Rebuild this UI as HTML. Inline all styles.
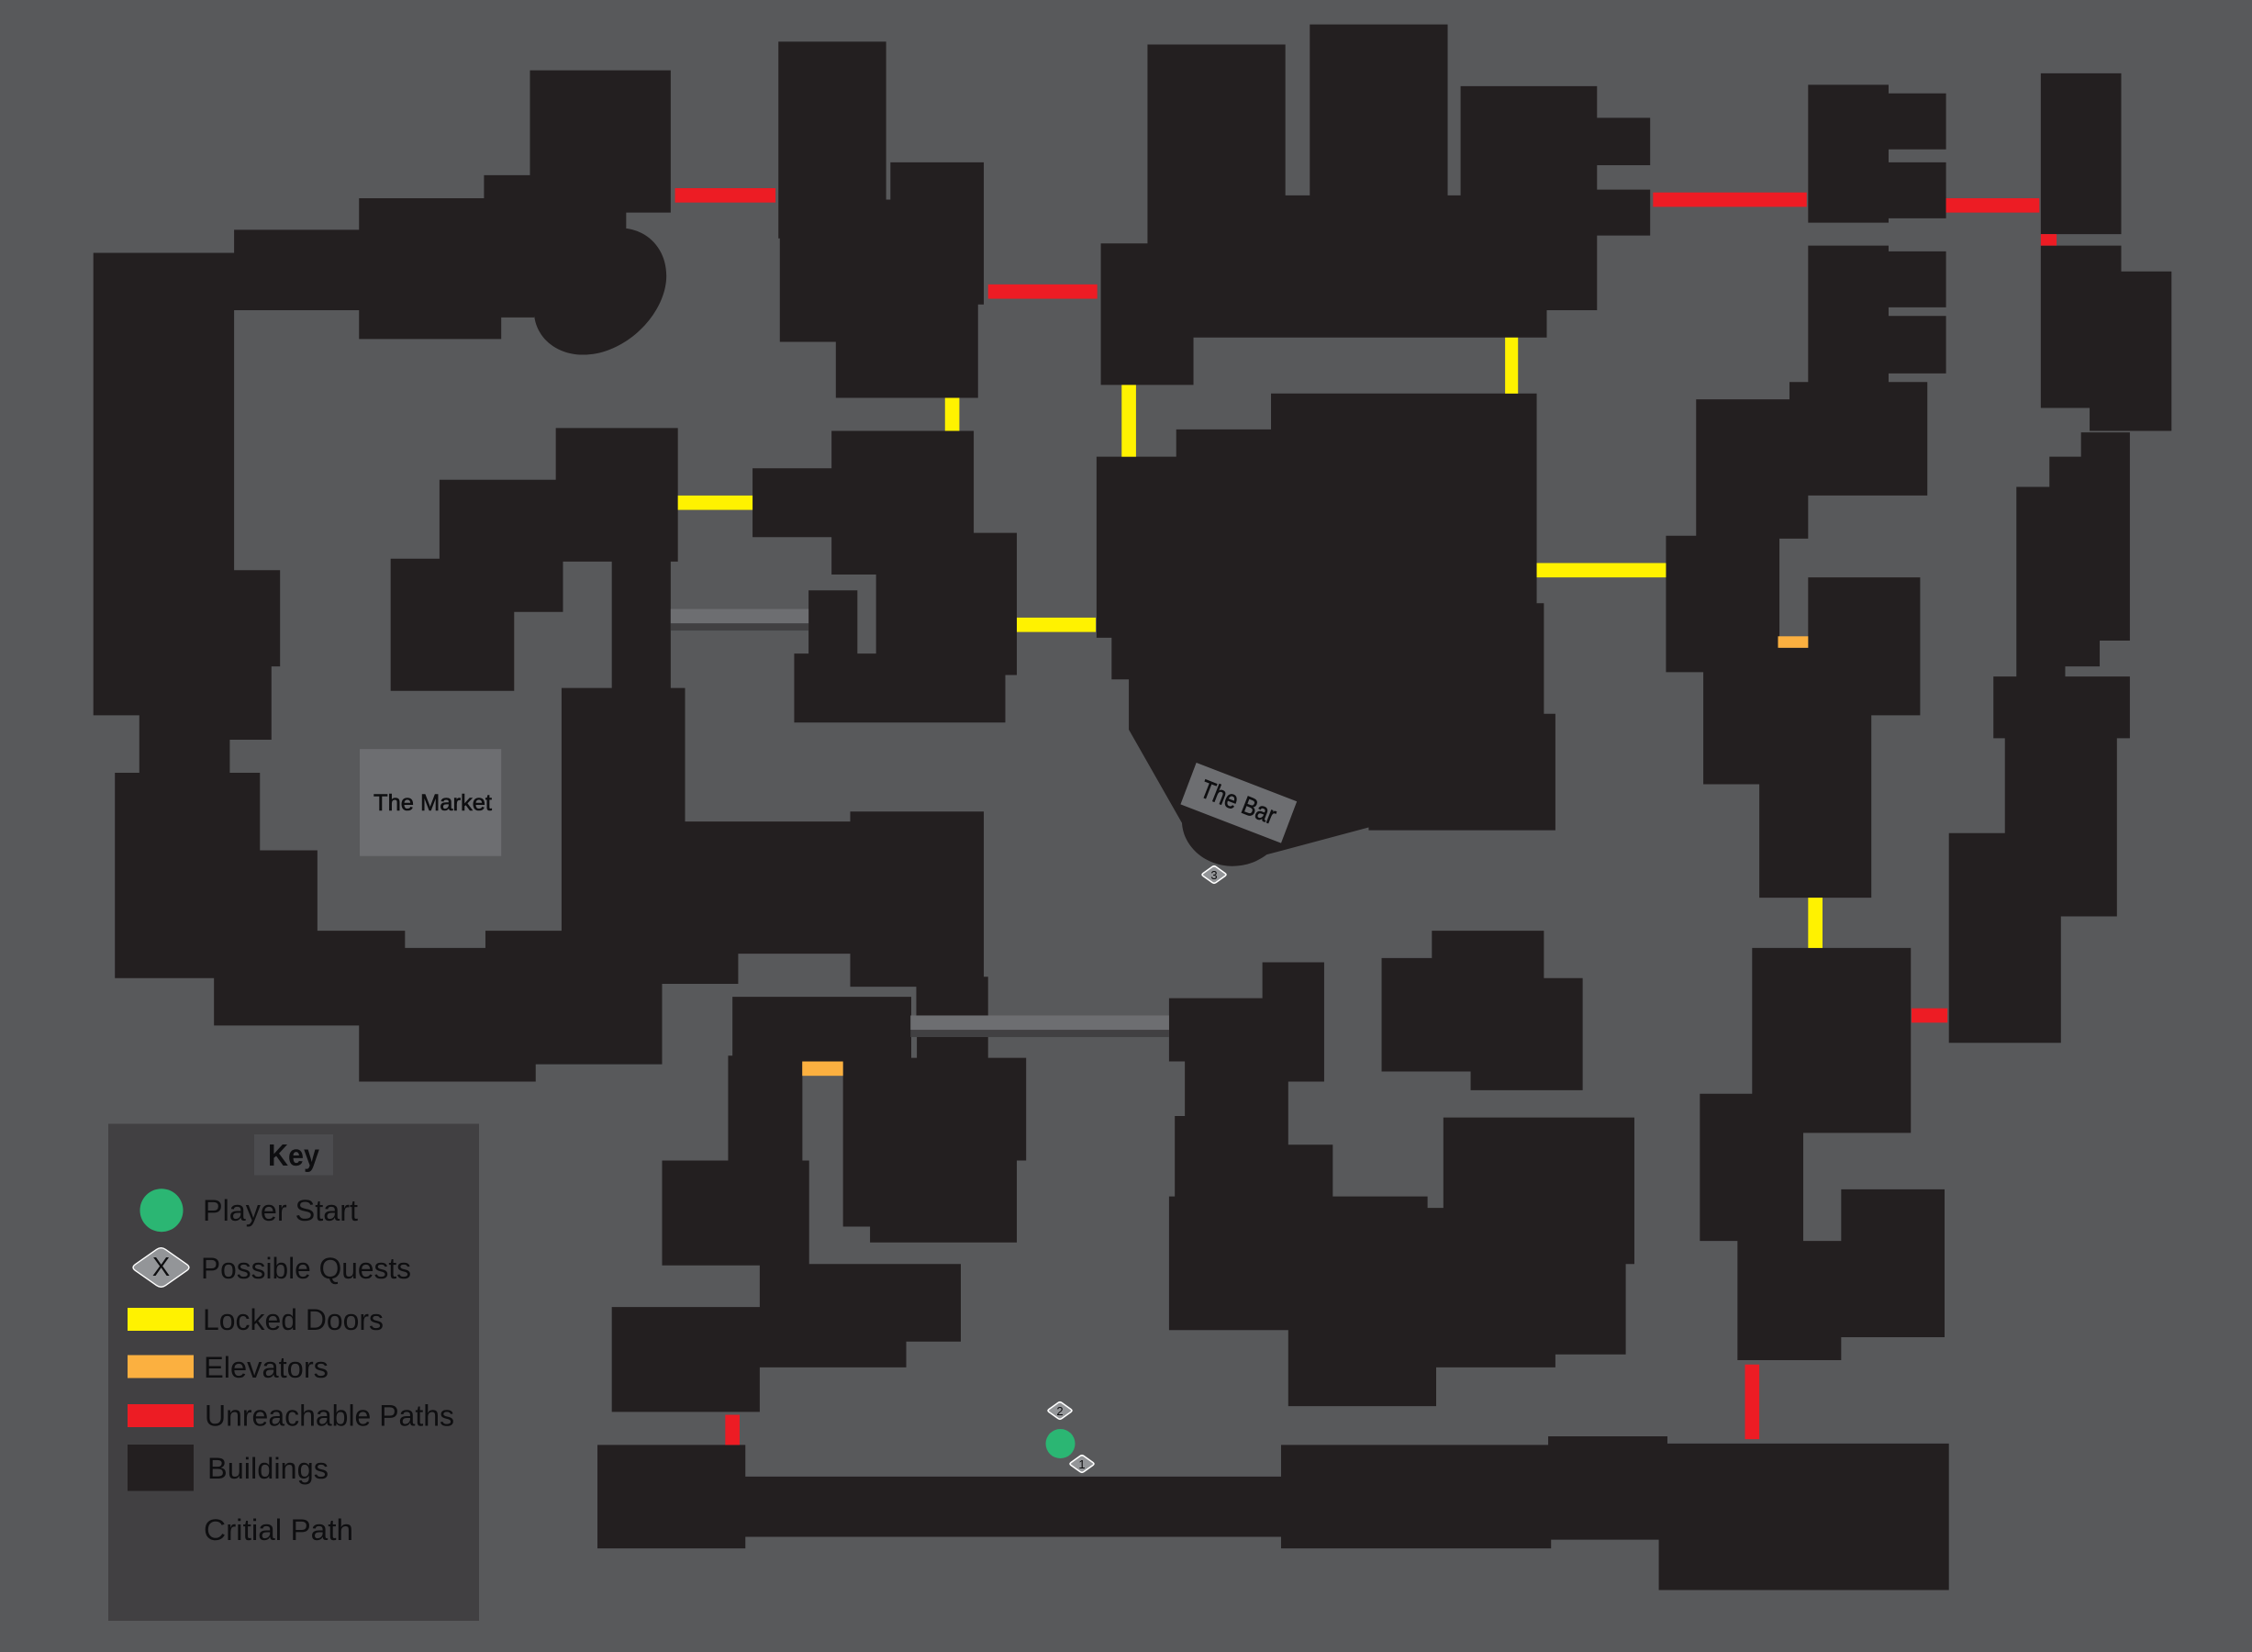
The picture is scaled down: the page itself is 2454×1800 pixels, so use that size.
<!DOCTYPE html>
<html lang="en">
<head>
<meta charset="utf-8">
<title>Map</title>
<style>
html,body{margin:0;padding:0;background:#58595b;}
svg{display:block;}
text{font-family:"Liberation Sans",sans-serif;fill:#0e0e10;}
</style>
</head>
<body>
<svg xmlns="http://www.w3.org/2000/svg" width="2454" height="1800" viewBox="0 0 2454 1800">
<defs>
<path id="d" d="M-11.9,-1.5L-2.1,-8.5Q0,-10 2.1,-8.5L11.9,-1.5Q14,0 11.9,1.5L2.1,8.5Q0,10 -2.1,8.5L-11.9,1.5Q-14,0 -11.9,-1.5Z"/>
</defs>
<rect width="2454" height="1800" fill="#58595b"/>
<g transform="scale(1.565)">
<!-- buildings -->
<path fill="#231f20" d="
M369 49H467V148H369Z
M337 122H436V170H337Z
M250 138H372V221H349V236H250Z
M163 160H260V216H163Z
M65 176H163V498H65Z
M160 397H195V464H160Z
M160 460H189V515H160Z
M97 495H160V540H97Z
M80 538H181V681H80Z
M178 592H221V681H178Z
M149 648H282V714H149Z
M250 660H373V753H250Z
M338 648H461V741H338Z
M391 479H477V685H391Z
M461 572H592V664H514V685H461Z
M592 565H685V687H592Z
M638 680H688V710H638Z
M436 159C452 161 464 174 464 192C464 218 436 247 406 247C388 247 374 236 372 220L372 159Z
M542 29H617V166H542Z
M543 139H685V212H681V277H582V238H543Z
M620 113H685V212H620Z
M387 298H472V391H387Z
M306 334H392V426H358V481H272V389H306Z
M426 388H467V479H426Z
M524 326H580V374H524Z
M579 300H678V400H579Z
M610 371H708V470H610Z
M563 411H597V460H563Z
M553 455H700V503H553Z
M799 31H895V172H799Z
M912 17H1008V140H912Z
M1017 60H1112V140H1017Z
M1110 82H1149V115H1110Z
M1110 132H1149V164H1110Z
M895 136H1112V216H1077V235H831V268H766.500V169.500H895Z
M885 274H1070V420H885Z
M819 299H890V325H819Z
M763.500 318H1070V473H774V444H763.500Z
M774 420H1075V508H786V473H774Z
M786 500H953V576L882 595C874 601 866 603 858 603C840 603 824 590 823 573L786 508Z
M953 497H1083V578H953Z
M1259 59H1315V155H1259Z
M1313 65H1355V104H1313Z
M1313 113H1355V152H1313Z
M1259 171H1315V267H1259Z
M1313 175H1355V214H1313Z
M1313 220H1355V260H1313Z
M1421 51H1477V163H1421Z
M1421 171H1477V284H1421Z
M1475 189H1512V300H1455V282H1475Z
M1246 266H1342V345H1246Z
M1181 278H1259V375H1181Z
M1160 373H1239V468H1160Z
M1259 402H1337V498H1259Z
M1186 451H1303V546H1186Z
M1225 495H1303V625H1225Z
M1449 301H1483V446H1449Z
M1427 318H1452V345H1427Z
M1404 339H1462V464H1404Z
M1404 460H1438V475H1404Z
M1388 471H1483V514H1388Z
M1396 510H1474V638H1396Z
M1357 580H1435V726H1357Z
M1220 660H1330.500V788.700H1220Z
M1183.600 761.500H1255.600V864H1183.600Z
M1209.800 864H1282V947H1209.800Z
M1282 828H1354V931H1282Z
M510 694H634.500V738H510Z
M507 735H558.700V809H507Z
M558 735H587V740H558Z
M461 808H563.400V881H461Z
M638.400 722H688V740H638.400Z
M587 736.500H714.500V808H587Z
M587 806H708V854H587Z
M605.800 850H708V865H605.800Z
M529 880H669V934H631V952H529Z
M426 910H529V983H426Z
M416 1006H519V1078H416Z
M517 1028H894V1070H517Z
M892 1006H1080V1078H892Z
M1078 1000H1161V1072H1078Z
M1155 1005H1357V1107H1155Z
M879 670H922V753H879Z
M814 695H882V739H814Z
M825 737H897V800H825Z
M818 777H897V835H818Z
M895 797H928V837H895Z
M814 833H994V926H814Z
M992 841H1083V952H992Z
M897 924H1000V979H897Z
M1005 778H1138V880H1005Z
M1081 878H1132V943H1081Z
M962 667H1026V746H962Z
M997 648H1075V683H997Z
M1024 681H1102V759H1024Z
"/>
<!-- walkways -->
<rect x="467" y="424" width="96" height="10" fill="#6d6e71"/>
<rect x="467" y="434" width="96" height="5" fill="#414042"/>
<rect x="634" y="707" width="180" height="10" fill="#6d6e71"/>
<rect x="634" y="717" width="180" height="5" fill="#414042"/>
<!-- locked doors -->
<g fill="#fff200">
<rect x="658" y="277" width="10" height="23"/>
<rect x="781" y="268" width="10" height="50"/>
<rect x="1048" y="235" width="9" height="39"/>
<rect x="472" y="345" width="52" height="10"/>
<rect x="708" y="430" width="55" height="10"/>
<rect x="1070" y="392" width="90" height="10"/>
<rect x="1259" y="625" width="10" height="35"/>
</g>
<!-- elevators -->
<g fill="#fbb040">
<rect x="1238" y="443" width="21" height="8"/>
<rect x="558.600" y="739" width="28.400" height="10"/>
</g>
<!-- unreachable -->
<g fill="#ed1c24">
<rect x="470" y="131" width="70" height="10"/>
<rect x="688" y="198" width="76" height="10"/>
<rect x="1151" y="134" width="107" height="10"/>
<rect x="1355" y="138" width="65" height="10"/>
<rect x="1421" y="163" width="11" height="8"/>
<rect x="1331" y="702" width="25" height="10"/>
<rect x="1215" y="950" width="10" height="52"/>
<rect x="505" y="985" width="10" height="21"/>
</g>
<!-- labels -->
<rect x="250.500" y="521.500" width="98.500" height="74.500" fill="#6d6e71"/>
<polygon points="833,531 903,558 892,587 822,560" fill="#6d6e71"/>
</g>
<text x="407" y="883" font-size="25" stroke="#0e0e10" stroke-width="0.6" textLength="129" lengthAdjust="spacingAndGlyphs">The Market</text>
<text transform="translate(1306,867) rotate(21.5)" font-size="28" stroke="#0e0e10" stroke-width="0.6" textLength="86" lengthAdjust="spacingAndGlyphs">The Bar</text>

<!-- quest markers -->
<g fill="#939598" stroke="#fff" stroke-width="1.6">
<use href="#d" transform="translate(1155,1537)"/>
<use href="#d" transform="translate(1179,1595)"/>
<use href="#d" transform="translate(1323,953)"/>
</g>
<g font-size="13" text-anchor="middle">
<text x="1155" y="1542">2</text>
<text x="1179" y="1600">1</text>
<text x="1323" y="958">3</text>
</g>
<circle cx="1155.5" cy="1573" r="16" fill="#2bb673"/>

<!-- legend -->
<rect x="118" y="1224.500" width="404" height="541.500" fill="#414042"/>
<rect x="277" y="1236" width="86" height="44.500" fill="#4c4c4f"/>
<text x="292" y="1270" font-size="33" font-weight="bold" textLength="56" lengthAdjust="spacingAndGlyphs">Key</text>
<circle cx="176" cy="1318.700" r="23.500" fill="#2bb673"/>
<use href="#d" transform="translate(175.500,1381) scale(2.35,2.3)" fill="#939598" stroke="#fff" stroke-width="0.6"/>
<text x="175.500" y="1390" font-size="29" text-anchor="middle">X</text>
<rect x="139" y="1425" width="72" height="25" fill="#fff200"/>
<rect x="139" y="1476.500" width="72" height="25" fill="#fbb040"/>
<rect x="139" y="1530" width="72" height="25" fill="#ed1c24"/>
<rect x="139" y="1574" width="72" height="50.500" fill="#231f20"/>
<g font-size="32">
<text x="221" y="1330" textLength="169" lengthAdjust="spacingAndGlyphs">Player Start</text>
<text x="219" y="1393" textLength="229" lengthAdjust="spacingAndGlyphs">Possible Quests</text>
<text x="221" y="1449" textLength="197" lengthAdjust="spacingAndGlyphs">Locked Doors</text>
<text x="222" y="1501" textLength="136" lengthAdjust="spacingAndGlyphs">Elevators</text>
<text x="223" y="1553.500" textLength="272" lengthAdjust="spacingAndGlyphs">Unreachable Paths</text>
<text x="226" y="1611" textLength="132" lengthAdjust="spacingAndGlyphs">Buildings</text>
<text x="222" y="1678" textLength="163" lengthAdjust="spacingAndGlyphs">Critial Path</text>
</g>
</svg>
</body>
</html>
